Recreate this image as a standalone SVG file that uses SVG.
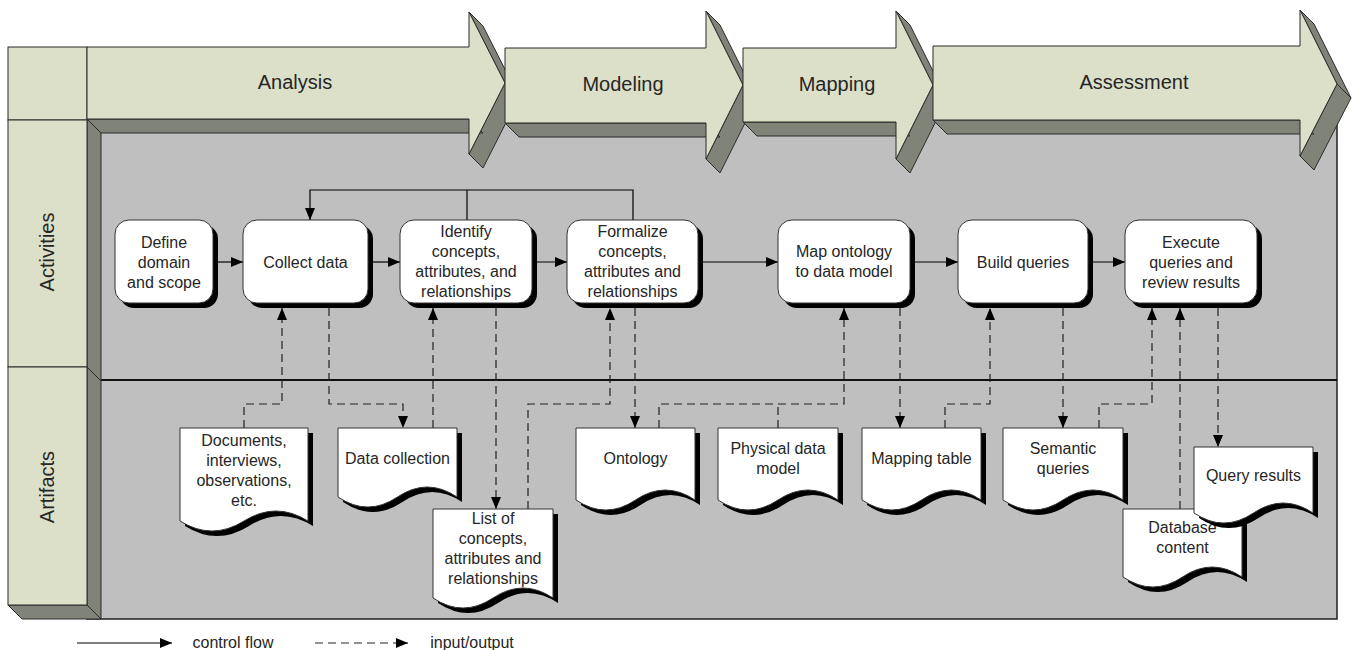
<svg xmlns="http://www.w3.org/2000/svg" width="1354" height="650" viewBox="0 0 1354 650">
<defs>
<marker id="ah" markerUnits="userSpaceOnUse" markerWidth="12" markerHeight="10" viewBox="0 0 12 10" refX="12" refY="5" orient="auto"><path d="M0,0 L12,5 L0,10 Z" fill="#000"/></marker>
<style>
text{font-family:"Liberation Sans",Arial,sans-serif;fill:#262626;text-anchor:middle}
.t{font-size:16px}
.ph{font-size:20px}
.face{fill:#dde0c9;stroke:#2b2b2b;stroke-width:1}
.side{fill:#7f8378;stroke:#2b2b2b;stroke-width:1}
.nd{fill:#fff;stroke:#333;stroke-width:1}
.sh{fill:#000}
.cf{stroke:#000;stroke-width:1.2;fill:none;marker-end:url(#ah)}
.cl{stroke:#000;stroke-width:1.2;fill:none}
.io{stroke:#222;stroke-width:1.2;fill:none;stroke-dasharray:8 5}
.iom{stroke:#222;stroke-width:1.2;fill:none;stroke-dasharray:8 5;marker-end:url(#ah)}
</style>
</defs>
<rect width="1354" height="650" fill="#fff"/>
<!-- swimlane background -->
<g id="lanes">
<rect x="87" y="120" width="1250" height="499" fill="#bfbfbf" stroke="#222" stroke-width="1.5"/>
<line x1="101" y1="380" x2="1337" y2="380" stroke="#111" stroke-width="2"/>
<polygon class="side" points="87,47 101,61 101,619 87,605"/>
<polygon class="side" points="8,605 87,605 101,619 22,619"/>
<line x1="87" y1="367" x2="101" y2="381" stroke="#2b2b2b" stroke-width="1"/>
<rect class="face" x="8" y="47" width="79" height="73"/>
<rect class="face" x="8" y="120" width="79" height="247"/>
<rect class="face" x="8" y="367" width="79" height="238"/>
<text class="ph" transform="translate(54,252) rotate(-90)">Activities</text>
<text class="ph" transform="translate(54,487) rotate(-90)">Artifacts</text>
</g>
<!-- phases -->
<g id="phase-analysis">
<polygon class="side" points="469,12 483,26 519,97 505,83"/>
<polygon class="side" points="505,83 519,97 483,168 469,154"/>
<polygon class="side" points="87,119 101,133 483,133 469,119"/>
<path class="face" d="M87,47 H469 V12 L505,83 L469,154 V119 H87 Z"/>
<text class="ph" x="295" y="89">Analysis</text>
</g>
<g id="phase-modeling">
<polygon class="side" points="706,11 720,25 757,99 743,85"/>
<polygon class="side" points="743,85 757,99 720,173 706,159"/>
<polygon class="side" points="505,123 519,137 720,137 706,123"/>
<path class="face" d="M505,48 H706 V11 L743,85 L706,159 V123 H505 Z"/>
<text class="ph" x="623" y="91">Modeling</text>
</g>
<g id="phase-mapping">
<polygon class="side" points="896,11 910,25 947,99 933,85"/>
<polygon class="side" points="933,85 947,99 910,173 896,159"/>
<polygon class="side" points="743,122 757,136 910,136 896,122"/>
<path class="face" d="M743,48 H896 V11 L933,85 L896,159 V122 H743 Z"/>
<text class="ph" x="837" y="91">Mapping</text>
</g>
<g id="phase-assessment">
<polygon class="side" points="1300,10 1314,24 1351,98 1337,84"/>
<polygon class="side" points="1337,84 1351,98 1314,170 1300,156"/>
<polygon class="side" points="933,120 947,134 1314,134 1300,120"/>
<path class="face" d="M933,46 H1300 V10 L1337,84 L1300,156 V120 H933 Z"/>
<text class="ph" x="1134" y="89">Assessment</text>
</g>
<!-- connectors -->
<g id="connectors">
<line class="cf" x1="213" y1="262" x2="243" y2="262"/>
<line class="cf" x1="368" y1="262" x2="400" y2="262"/>
<line class="cf" x1="532" y1="262" x2="567" y2="262"/>
<line class="cf" x1="698" y1="262" x2="778" y2="262"/>
<line class="cf" x1="910" y1="262" x2="958" y2="262"/>
<line class="cf" x1="1088" y1="262" x2="1125" y2="262"/>
<path class="cl" d="M467,220 V190"/>
<path class="cf" d="M633,220 V190 H310 V220"/>
<path class="iom" d="M244,428 V404 H282 V308"/>
<path class="iom" d="M329,308 V404 H403 V428"/>
<path class="iom" d="M433,428 V308"/>
<path class="iom" d="M496,308 V509"/>
<path class="iom" d="M528,509 V404 H610 V308"/>
<path class="iom" d="M635,308 V428"/>
<path class="iom" d="M659,428 V404 H844 V308"/>
<path class="io" d="M778,428 V404"/>
<path class="iom" d="M900,308 V428"/>
<path class="iom" d="M945,428 V404 H990 V308"/>
<path class="iom" d="M1063,308 V428"/>
<path class="iom" d="M1099,428 V404 H1152 V308"/>
<path class="iom" d="M1180,509 V308"/>
<path class="iom" d="M1218,308 V447"/>
</g>
<!-- activities -->
<g id="n-define">
<rect class="sh" x="120" y="225" width="98" height="83" rx="14"/>
<rect class="nd" x="115" y="220" width="98" height="83" rx="14"/>
<text class="t" x="164" y="248">Define</text>
<text class="t" x="164" y="268">domain</text>
<text class="t" x="164" y="288">and scope</text>
</g>
<g id="n-collect">
<rect class="sh" x="248" y="225" width="125" height="83" rx="14"/>
<rect class="nd" x="243" y="220" width="125" height="83" rx="14"/>
<text class="t" x="305.5" y="268">Collect data</text>
</g>
<g id="n-identify">
<rect class="sh" x="405" y="225" width="132" height="83" rx="14"/>
<rect class="nd" x="400" y="220" width="132" height="83" rx="14"/>
<text class="t" x="466" y="237">Identify</text>
<text class="t" x="466" y="257">concepts,</text>
<text class="t" x="466" y="277">attributes, and</text>
<text class="t" x="466" y="297">relationships</text>
</g>
<g id="n-formalize">
<rect class="sh" x="572" y="225" width="131" height="83" rx="14"/>
<rect class="nd" x="567" y="220" width="131" height="83" rx="14"/>
<text class="t" x="632.5" y="237">Formalize</text>
<text class="t" x="632.5" y="257">concepts,</text>
<text class="t" x="632.5" y="277">attributes and</text>
<text class="t" x="632.5" y="297">relationships</text>
</g>
<g id="n-map">
<rect class="sh" x="783" y="225" width="132" height="83" rx="14"/>
<rect class="nd" x="778" y="220" width="132" height="83" rx="14"/>
<text class="t" x="844" y="257">Map ontology</text>
<text class="t" x="844" y="277">to data model</text>
</g>
<g id="n-build">
<rect class="sh" x="963" y="225" width="130" height="83" rx="14"/>
<rect class="nd" x="958" y="220" width="130" height="83" rx="14"/>
<text class="t" x="1023" y="268">Build queries</text>
</g>
<g id="n-execute">
<rect class="sh" x="1130" y="225" width="132" height="83" rx="14"/>
<rect class="nd" x="1125" y="220" width="132" height="83" rx="14"/>
<text class="t" x="1191" y="248">Execute</text>
<text class="t" x="1191" y="268">queries and</text>
<text class="t" x="1191" y="288">review results</text>
</g>
<!-- artifacts -->
<g id="d-documents">
<path class="sh" transform="translate(5,5)" d="M180,428 H308 V521 Q276,501 244,521 Q212,541 180,521 Z"/>
<path class="nd" d="M180,428 H308 V521 Q276,501 244,521 Q212,541 180,521 Z"/>
<text class="t" x="244" y="446">Documents,</text>
<text class="t" x="244" y="466">interviews,</text>
<text class="t" x="244" y="486">observations,</text>
<text class="t" x="244" y="506">etc.</text>
</g>
<g id="d-datacollection">
<path class="sh" transform="translate(5,5)" d="M338,428 H457 V497 Q427.25,477 397.5,497 Q367.75,517 338,497 Z"/>
<path class="nd" d="M338,428 H457 V497 Q427.25,477 397.5,497 Q367.75,517 338,497 Z"/>
<text class="t" x="397.5" y="464">Data collection</text>
</g>
<g id="d-list">
<path class="sh" transform="translate(5,5)" d="M433,509 H553 V598 Q523,578 493,598 Q463,618 433,598 Z"/>
<path class="nd" d="M433,509 H553 V598 Q523,578 493,598 Q463,618 433,598 Z"/>
<text class="t" x="493" y="524">List of</text>
<text class="t" x="493" y="544">concepts,</text>
<text class="t" x="493" y="564">attributes and</text>
<text class="t" x="493" y="584">relationships</text>
</g>
<g id="d-ontology">
<path class="sh" transform="translate(5,5)" d="M576,428 H695 V500 Q665.25,480 635.5,500 Q605.75,520 576,500 Z"/>
<path class="nd" d="M576,428 H695 V500 Q665.25,480 635.5,500 Q605.75,520 576,500 Z"/>
<text class="t" x="635.5" y="464">Ontology</text>
</g>
<g id="d-physical">
<path class="sh" transform="translate(5,5)" d="M718,428 H838 V500 Q808,480 778,500 Q748,520 718,500 Z"/>
<path class="nd" d="M718,428 H838 V500 Q808,480 778,500 Q748,520 718,500 Z"/>
<text class="t" x="778" y="454">Physical data</text>
<text class="t" x="778" y="474">model</text>
</g>
<g id="d-mapping">
<path class="sh" transform="translate(5,5)" d="M862,428 H981 V500 Q951.25,480 921.5,500 Q891.75,520 862,500 Z"/>
<path class="nd" d="M862,428 H981 V500 Q951.25,480 921.5,500 Q891.75,520 862,500 Z"/>
<text class="t" x="921.5" y="464">Mapping table</text>
</g>
<g id="d-semantic">
<path class="sh" transform="translate(5,5)" d="M1003,428 H1123 V500 Q1093,480 1063,500 Q1033,520 1003,500 Z"/>
<path class="nd" d="M1003,428 H1123 V500 Q1093,480 1063,500 Q1033,520 1003,500 Z"/>
<text class="t" x="1063" y="454">Semantic</text>
<text class="t" x="1063" y="474">queries</text>
</g>
<g id="d-database">
<path class="sh" transform="translate(5,5)" d="M1123,509 H1242 V577 Q1212.25,557 1182.5,577 Q1152.75,597 1123,577 Z"/>
<path class="nd" d="M1123,509 H1242 V577 Q1212.25,557 1182.5,577 Q1152.75,597 1123,577 Z"/>
<text class="t" x="1182.5" y="533">Database</text>
<text class="t" x="1182.5" y="553">content</text>
</g>
<g id="d-results">
<path class="sh" transform="translate(5,5)" d="M1194,447 H1313 V513 Q1283.25,493 1253.5,513 Q1223.75,533 1194,513 Z"/>
<path class="nd" d="M1194,447 H1313 V513 Q1283.25,493 1253.5,513 Q1223.75,533 1194,513 Z"/>
<text class="t" x="1253.5" y="481">Query results</text>
</g>
<!-- legend -->
<g id="legend">
<line class="cf" x1="77" y1="643" x2="172" y2="643"/>
<text class="t" x="233" y="648">control flow</text>
<line class="iom" x1="315" y1="643" x2="408" y2="643"/>
<text class="t" x="472" y="648">input/output</text>
</g>
</svg>
